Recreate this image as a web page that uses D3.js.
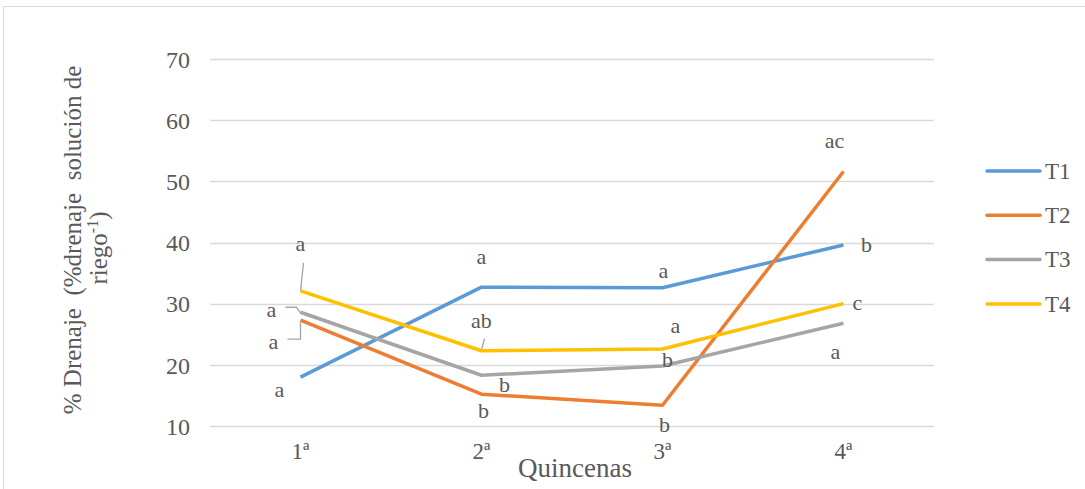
<!DOCTYPE html>
<html><head><meta charset="utf-8">
<script src="https://cdn.jsdelivr.net/npm/d3@7"></script>
</head><body style="margin:0;background:#fff">
<script>
const categories = ["1ª","2ª","3ª","4ª"];
const seriesNames = ["T1","T2","T3","T4"];
const T1 = [18.0, 32.7, 32.6, 39.6];
const T2 = [27.3, 15.2, 13.4, 51.6];
const T3 = [28.6, 18.3, 19.8, 26.8];
const T4 = [32.1, 22.3, 22.6, 30.0];
const yTicks = [10,20,30,40,50,60,70];
const T1labels = ["a","a","a","b"];
const T2labels = ["a","b","b","ac"];
const T3labels = ["a","b","b","a"];
const T4labels = ["a","ab","a","c"];
const colors = ["#5B9BD5","#ED7D31","#A5A5A5","#FFC000"];

// label layout offsets (dx, dy in px relative to data point) — layout only
const labelOffsets = [
  [[-21,13],[0,-30],[1,-16],[23,0]],
  [[-27,22],[2,17],[2,20],[-9,-30]],
  [[-29,-2],[23,10],[5,-6],[-8,29]],
  [[0,-46],[0,-29],[13,-23],[14,0]]
];

const FONT="'Liberation Serif', Tinos";
const TXT="#595959";
const W=1085,H=489;
const svg=d3.select("body").append("svg").attr("width",W).attr("height",H).style("display","block");
svg.append("rect").attr("x",3.5).attr("y",6.5).attr("width",1200).attr("height",600)
  .attr("fill","none").attr("stroke","#d9d9d9");

const x=d3.scaleBand().domain(categories).range([210,934]);
const y=d3.scaleLinear().domain([10,70]).range([426,59]);
const cx=c=>x(c)+x.bandwidth()/2;

svg.append("g").selectAll("line").data(yTicks).join("line")
  .attr("x1",210).attr("x2",934).attr("y1",d=>Math.round(y(d))+0.5).attr("y2",d=>Math.round(y(d))+0.5)
  .attr("stroke","#d9d9d9").attr("stroke-width",1.3);

const yAxis=d3.axisLeft(y).tickValues(yTicks).tickSize(0).tickPadding(0);
const gy=svg.append("g").attr("transform","translate(190,0)").call(yAxis);
gy.attr("font-family",FONT);
gy.select(".domain").remove();
gy.selectAll("text").style("font-family",FONT).style("font-size","24px").attr("fill",TXT).attr("dy","0.34em");

const xAxis=d3.axisBottom(x).tickSize(0).tickPadding(0);
const gx=svg.append("g").attr("transform","translate(0,442)").call(xAxis);
gx.attr("font-family",FONT);
gx.select(".domain").remove();
gx.selectAll("text").style("font-family",FONT).style("font-size","23px").attr("fill",TXT).attr("dy","0.72em");

function T(sel){return sel.style("font-family",FONT).attr("font-family",FONT).attr("fill",TXT);}

T(svg.append("text")).attr("x",575).attr("y",477).attr("text-anchor","middle").style("font-size","27px").text("Quincenas");
const yt=T(svg.append("text")).attr("transform","translate(0,240) rotate(-90)").attr("text-anchor","middle").style("font-size","25px").style("white-space","pre");
yt.append("tspan").attr("x",0).attr("y",81).text("% Drenaje  (%drenaje  solución de");
const l2=T(svg.append("text")).attr("transform","translate(0,248) rotate(-90)").attr("text-anchor","middle").style("font-size","25px");
l2.append("tspan").attr("x",0).attr("y",107).text("riego");
l2.append("tspan").attr("dy",-9).style("font-size","16px").text("-1");
l2.append("tspan").attr("dy",9).text(")");

const series=[T1,T2,T3,T4];
const labels=[T1labels,T2labels,T3labels,T4labels];
const line=d3.line().x((d,i)=>cx(categories[i])).y(d=>y(d));

const leaders=[
  {s:3,i:0,pts:[[3,-28],[0,0]]},
  {s:2,i:0,pts:[[-15,-5],[-4,-5],[0,1]]},
  {s:1,i:0,pts:[[-13,19],[0,19],[0,2]]},
  {s:3,i:1,pts:[[3,-12],[0,-1]]}
];
svg.append("g").selectAll("path").data(leaders).join("path")
  .attr("d",l=>{const px=cx(categories[l.i]),py=y(series[l.s][l.i]);return d3.line()(l.pts.map(p=>[px+p[0],py+p[1]]));})
  .attr("fill","none").attr("stroke","#a5a5a5").attr("stroke-width",1.3);

svg.append("g").selectAll("path").data(series).join("path")
  .attr("d",line).attr("fill","none").attr("stroke",(d,i)=>colors[i]).attr("stroke-width",3.5)
  .attr("stroke-linejoin","round");

series.forEach((s,si)=>{
  T(svg.append("g").selectAll("text").data(s).join("text"))
    .attr("x",(d,i)=>cx(categories[i])+labelOffsets[si][i][0])
    .attr("y",(d,i)=>y(d)+labelOffsets[si][i][1])
    .attr("dy","0.3em").attr("text-anchor","middle").style("font-size","22px")
    .text((d,i)=>labels[si][i]);
});

const lg=svg.append("g").selectAll("g").data(seriesNames).join("g")
  .attr("transform",(d,i)=>`translate(987,${171+i*44.3})`);
lg.append("line").attr("x1",0).attr("x2",53).attr("stroke",(d,i)=>colors[i]).attr("stroke-width",3.5).attr("stroke-linecap","round");
T(lg.append("text")).attr("x",58).attr("dy","0.34em").style("font-size","23px").text(d=>d);
</script>
</body></html>
